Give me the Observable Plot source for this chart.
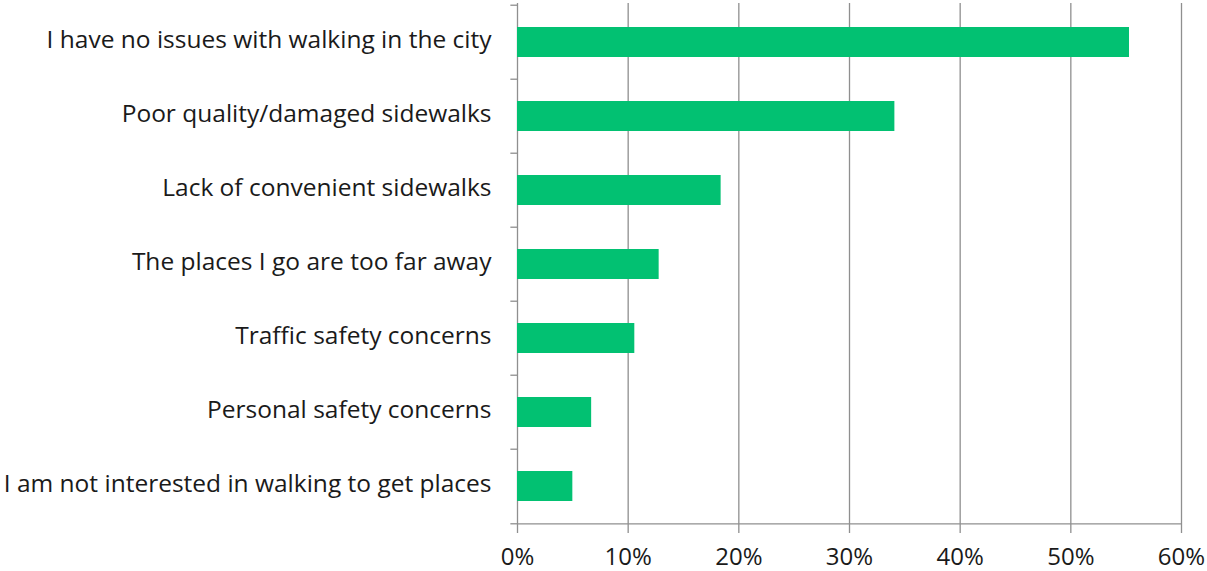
<!DOCTYPE html>
<html>
<head>
<meta charset="utf-8">
<script src="https://cdn.jsdelivr.net/npm/d3@7"></script>
<script src="https://cdn.jsdelivr.net/npm/@observablehq/plot@0.6"></script>
<style>
  html, body { margin: 0; padding: 0; background: #fff; }
  #chart svg { display: block; }
</style>
</head>
<body>
<div id="chart"></div>
<script>
const categories = [
  "I have no issues with walking in the city",
  "Poor quality/damaged sidewalks",
  "Lack of convenient sidewalks",
  "The places I go are too far away",
  "Traffic safety concerns",
  "Personal safety concerns",
  "I am not interested in walking to get places"
];
const values = [55.3, 34.1, 18.4, 12.8, 10.6, 6.7, 5.0];
const xTicks = [0, 10, 20, 30, 40, 50, 60];

const data = categories.map((c, i) => ({category: c, value: values[i]}));

const W = 1207, H = 571;
const mt = 3, mb = 46, ml = 517, mr = 26;
const step = (H - mt - mb) / categories.length;
const gridColor = "#8f8f8f";
const font = "'Open Sans', 'Liberation Sans', Arial, sans-serif";

const plot = Plot.plot({
  width: W,
  height: H,
  marginTop: mt,
  marginBottom: mb,
  marginLeft: ml,
  marginRight: mr,
  style: {fontFamily: font, background: "#fff"},
  x: {domain: [0, 60]},
  y: {domain: categories, paddingInner: 0.6, paddingOuter: 0.3},
  marks: [
    Plot.gridX(xTicks, {stroke: gridColor, strokeOpacity: 1, strokeWidth: 1.3}),
    Plot.barX(data, {x: "value", y: "category", fill: "#02c172"}),
    // x-axis baseline
    Plot.ruleY([categories[categories.length - 1]], {x1: 0, x2: 60, dy: step / 2, stroke: gridColor, strokeWidth: 1.3}),
    // y-axis category boundary ticks
    Plot.ruleY(categories, {x1: -0.6, x2: 0, dy: -step / 2, stroke: gridColor, strokeWidth: 1.3}),
    Plot.ruleY([categories[categories.length - 1]], {x1: -0.6, x2: 0, dy: step / 2, stroke: gridColor, strokeWidth: 1.3}),
    Plot.axisX(xTicks, {
      tickSize: 8, tickPadding: 14, stroke: gridColor, strokeWidth: 1.3,
      tickFormat: d => d + "%", fontSize: 24, fill: "#1a1a1a", label: null
    }),
    Plot.axisY({
      tickSize: 0, tickPadding: 26, fontSize: 24.5, dy: -2, fill: "#1a1a1a", label: null
    })
  ]
});
document.getElementById("chart").appendChild(plot);
</script>
</body>
</html>
